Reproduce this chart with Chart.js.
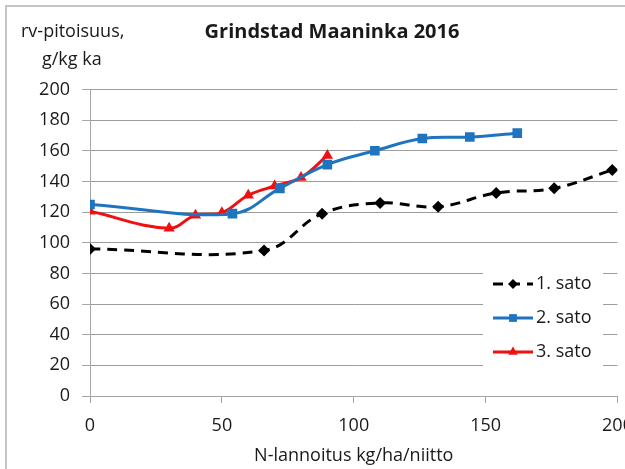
<!DOCTYPE html>
<html>
<head>
<meta charset="utf-8">
<script src="https://cdn.jsdelivr.net/npm/chart.js@4/dist/chart.umd.min.js"></script>
<style>
html, body { margin: 0; padding: 0; background: #fff; overflow: hidden; }
#wrap { width: 660px; height: 469px; }
</style>
</head>
<body>
<div id="wrap"><canvas id="canvas" width="660" height="469"></canvas></div>
<script>
// values
var seriesNames = ['1. sato', '2. sato', '3. sato'];

var nSato1 = [0, 66, 88, 110, 132, 154, 176, 198];
var rvSato1 = [96, 95, 119, 126, 123.5, 132.5, 135.5, 147.5];

var nSato2 = [0, 54, 72, 90, 108, 126, 144, 162];
var rvSato2 = [125, 119, 135.5, 151, 160, 168, 169, 171.5];

var nSato3 = [0, 30, 40, 50, 60, 70, 80, 90];
var rvSato3 = [120.5, 109.5, 118, 119.5, 131, 137, 142.5, 157];

var yTicks = { min: 0, max: 200, step: 20 };
var xTicks = { min: 0, max: 200, step: 50 };

var FONT = '"Open Sans", "Liberation Sans", sans-serif';
var TEXT = '#1a1a1a';

function points(xs, ys) {
    var out = [];
    for (var i = 0; i < xs.length; i++) {
        out.push({ x: xs[i], y: ys[i] });
    }
    return out;
}

function marker(ctx, style, x, y, r, color) {
    ctx.save();
    ctx.setLineDash([]);
    ctx.fillStyle = color;
    ctx.beginPath();
    if (style === 'rectRot') {
        ctx.moveTo(x, y - r); ctx.lineTo(x + r, y); ctx.lineTo(x, y + r); ctx.lineTo(x - r, y);
    } else if (style === 'rect') {
        var s = r * Math.SQRT1_2;
        ctx.rect(x - s, y - s, 2 * s, 2 * s);
    } else {
        ctx.moveTo(x, y - r);
        ctx.lineTo(x + r * 0.866, y + r * 0.5);
        ctx.lineTo(x - r * 0.866, y + r * 0.5);
    }
    ctx.closePath();
    ctx.fill();
    ctx.restore();
}

var extras = {
    id: 'extras',
    beforeDraw: function(chart) {
        var ctx = chart.ctx;
        ctx.save();
        ctx.fillStyle = '#fff';
        ctx.fillRect(0, 0, chart.width, chart.height);
        // frame of the pasted chart (top and left edge visible)
        ctx.strokeStyle = '#c4c4c4';
        ctx.lineWidth = 2;
        ctx.strokeRect(6, 6, 1000, 1000);
        ctx.restore();
    },
    afterDraw: function(chart) {
        var ctx = chart.ctx;
        ctx.save();
        ctx.fillStyle = TEXT;
        ctx.textBaseline = 'middle';

        ctx.font = 'bold 20px ' + FONT;
        ctx.textAlign = 'center';
        ctx.fillText('Grindstad Maaninka 2016', 332, 32);

        ctx.font = '18px ' + FONT;
        ctx.textAlign = 'left';
        ctx.fillText('rv-pitoisuus,', 21, 32);
        ctx.fillText('g/kg ka', 42, 60);

        // legend inside the plot
        ctx.fillStyle = '#fff';
        ctx.fillRect(483, 268, 120, 100);
        var rows = [284, 318, 352];
        var mk = [5, 5.5, 5.5];
        chart.data.datasets.forEach(function(ds, i) {
            var y = rows[i];
            ctx.strokeStyle = ds.borderColor;
            ctx.lineWidth = ds.borderWidth;
            ctx.setLineDash(ds.borderDash || []);
            ctx.beginPath();
            ctx.moveTo(493, y);
            ctx.lineTo(533, y);
            ctx.stroke();
            marker(ctx, ds.pointStyle, 513, y, mk[i], ds.pointBackgroundColor);
            ctx.fillStyle = TEXT;
            ctx.fillText(ds.label, 536, y);
        });
        ctx.restore();
    }
};

var config = {
    type: 'line',
    data: {
        datasets: [{
                label: seriesNames[0],
                data: points(nSato1, rvSato1),
                borderColor: '#000000',
                backgroundColor: '#000000',
                pointBackgroundColor: '#000000',
                borderWidth: 3,
                borderDash: [10, 7],
                pointStyle: 'rectRot',
                pointRadius: 6,
                pointBorderWidth: 0,
                tension: 0.4
            },
            {
                label: seriesNames[1],
                data: points(nSato2, rvSato2),
                borderColor: '#1f74bf',
                backgroundColor: '#1f74bf',
                pointBackgroundColor: '#1f74bf',
                borderWidth: 3,
                pointStyle: 'rect',
                pointRadius: 6.8,
                pointBorderWidth: 0,
                tension: 0.4
            },
            {
                label: seriesNames[2],
                data: points(nSato3, rvSato3),
                borderColor: '#ee1111',
                backgroundColor: '#ee1111',
                pointBackgroundColor: '#ee1111',
                borderWidth: 3,
                pointStyle: 'triangle',
                pointRadius: 6.5,
                pointBorderWidth: 0,
                tension: 0.4
            }
        ]
    },
    options: {
        responsive: false,
        animation: false,
        devicePixelRatio: 1,
        layout: { padding: { top: 89.5, left: 0, right: 42.5, bottom: 0 } },
        plugins: {
            legend: { display: false },
            title: { display: false },
            tooltip: { enabled: false }
        },
        scales: {
            x: {
                type: 'linear',
                min: xTicks.min,
                max: xTicks.max,
                ticks: { stepSize: xTicks.step, color: TEXT, font: { family: FONT, size: 18 }, padding: 12, maxRotation: 0 },
                grid: { drawOnChartArea: false, drawTicks: true, tickLength: 7, tickColor: '#a6a6a6' },
                border: { color: '#a6a6a6', width: 1 },
                title: { display: true, text: 'N-lannoitus kg/ha/niitto', color: TEXT, font: { family: FONT, size: 18 }, padding: 2 },
                afterFit: function(scale) { scale.height = 73; }
            },
            y: {
                min: yTicks.min,
                max: yTicks.max,
                ticks: { stepSize: yTicks.step, color: TEXT, font: { family: FONT, size: 18 }, padding: 12 },
                grid: { color: '#9c9c9c', lineWidth: 1, borderDash: [2, 2], tickLength: 8, tickColor: '#a6a6a6', tickBorderDash: [] },
                border: { color: '#a6a6a6', width: 1 },
                afterFit: function(scale) { scale.width = 90; }
            }
        }
    },
    plugins: [extras]
};

window.addEventListener('load', function() {
    var ctx = document.getElementById('canvas').getContext('2d');
    window.LineChart = new Chart(ctx, config);
});
</script>
</body>
</html>
